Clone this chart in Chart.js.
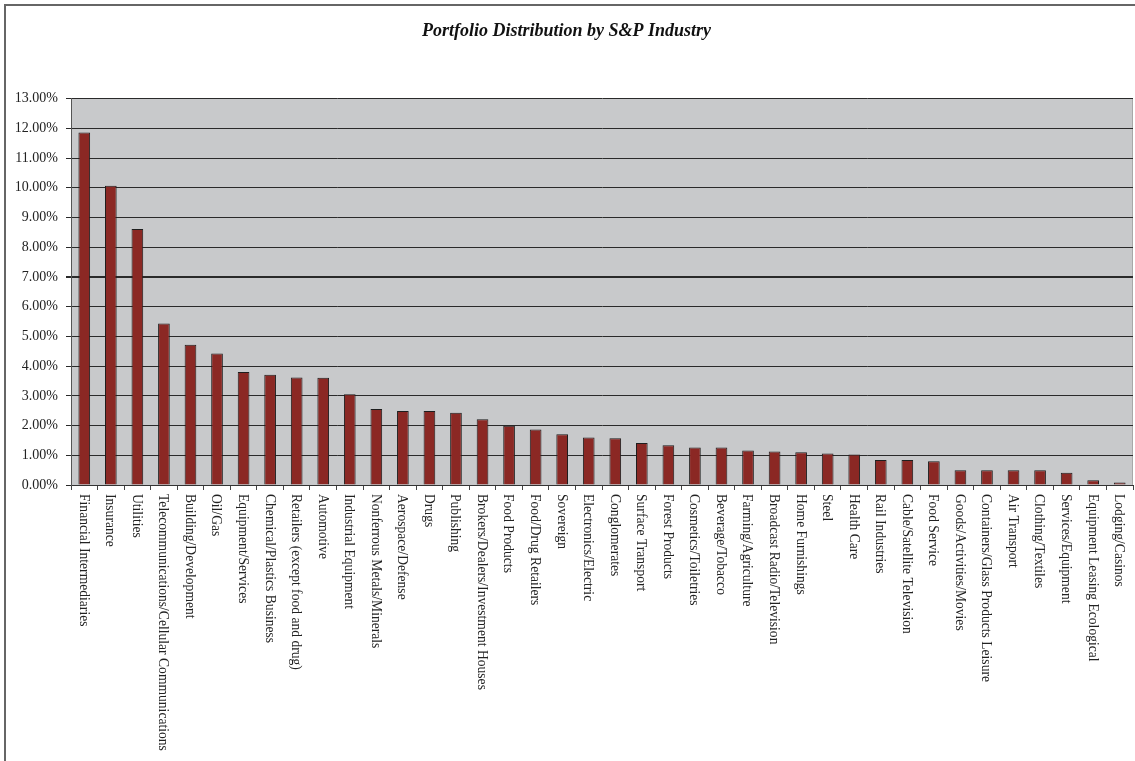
<!DOCTYPE html>
<html lang="en">
<head>
    <meta charset="UTF-8">
    <title>Portfolio Distribution by S&amp;P Industry</title>
    <script src="https://cdn.jsdelivr.net/npm/chart.js"></script>
    <style>
        html, body { margin: 0; padding: 0; background: #fff; overflow: hidden; }
        #wrap { position: relative; width: 1135px; height: 761px; }
        #frame { position: absolute; left: 4px; top: 4px; width: 1160px; height: 800px; border: 2px solid #666; }
        canvas { position: absolute; left: 0; top: 0; }
    </style>
</head>
<body>
    <div id="wrap">
        <div id="frame"></div>
        <canvas id="industryChart" width="1135" height="761"></canvas>
    </div>
    <script>
        var industries = [
            'Financial Intermediaries', 'Insurance', 'Utilities',
            'Telecommunications/Cellular Communications', 'Building/Development', 'Oil/Gas',
            'Equipment/Services', 'Chemical/Plastics Business', 'Retailers (except food and drug)',
            'Automotive', 'Industrial Equipment', 'Nonferrous Metals/Minerals',
            'Aerospace/Defense', 'Drugs', 'Publishing',
            'Brokers/Dealers/Investment Houses', 'Food Products', 'Food/Drug Retailers',
            'Sovereign', 'Electronics/Electric', 'Conglomerates',
            'Surface Transport', 'Forest Products', 'Cosmetics/Toiletries',
            'Beverage/Tobacco', 'Farming/Agriculture', 'Broadcast Radio/Television',
            'Home Furnishings', 'Steel', 'Health Care',
            'Rail Industries', 'Cable/Satellite Television', 'Food Service',
            'Goods/Activities/Movies', 'Containers/Glass Products Leisure', 'Air Transport',
            'Clothing/Textiles', 'Services/Equipment', 'Equipment Leasing Ecological',
            'Lodging/Casinos'
        ];
        // percent of portfolio
        var shares = [
            11.86, 10.07, 8.61,
            5.43, 4.72, 4.42,
            3.80, 3.71, 3.62,
            3.61, 3.05, 2.56,
            2.49, 2.49, 2.43,
            2.21, 1.99, 1.87,
            1.71, 1.60, 1.57,
            1.41, 1.34, 1.26,
            1.26, 1.16, 1.13,
            1.10, 1.06, 1.03,
            0.84, 0.84, 0.80,
            0.50, 0.50, 0.50,
            0.50, 0.41, 0.16,
            0.08
        ];
        var yTicks = { min: 0, max: 13, step: 1 };

        var serif = "'Liberation Serif', 'Times New Roman', serif";

        var plotBg = {
            id: 'plotBg',
            beforeDraw: function(chart) {
                var a = chart.chartArea, ctx = chart.ctx;
                ctx.save();
                ctx.fillStyle = '#c8c9cb';
                ctx.fillRect(a.left, a.top, a.right - a.left, a.bottom - a.top);
                ctx.strokeStyle = '#a8a8a8';
                ctx.lineWidth = 1;
                ctx.beginPath();
                ctx.moveTo(a.right - 0.5, a.top);
                ctx.lineTo(a.right - 0.5, a.bottom);
                ctx.stroke();
                ctx.restore();
            }
        };

        // category labels read top-to-bottom (rotated clockwise)
        var sideLabels = {
            id: 'sideLabels',
            afterDraw: function(chart) {
                var xs = chart.scales.x, ctx = chart.ctx;
                ctx.save();
                ctx.font = '13.6px ' + serif;
                ctx.fillStyle = '#222';
                ctx.textAlign = 'left';
                ctx.textBaseline = 'middle';
                industries.forEach(function(name, i) {
                    ctx.save();
                    ctx.translate(xs.getPixelForTick(i) - 1, xs.top + 9);
                    ctx.rotate(Math.PI / 2);
                    ctx.fillText(name, 0, 0);
                    ctx.restore();
                });
                ctx.restore();
            }
        };

        var ctx = document.getElementById('industryChart').getContext('2d');
        new Chart(ctx, {
            type: 'bar',
            data: {
                labels: industries,
                datasets: [{
                    data: shares,
                    backgroundColor: '#8b2824',
                    borderColor: '#1e1e1e',
                    borderWidth: 1,
                    barPercentage: 0.44,
                    categoryPercentage: 1
                }]
            },
            options: {
                responsive: false,
                animation: false,
                layout: { padding: { top: 0, left: 0, right: 2, bottom: 0 } },
                plugins: {
                    legend: { display: false },
                    tooltip: { enabled: false },
                    title: {
                        display: true,
                        text: 'Portfolio Distribution by S&P Industry',
                        color: '#111',
                        font: { family: serif, size: 18, weight: 'bold', style: 'italic' },
                        padding: { top: 21, bottom: 56 }
                    }
                },
                scales: {
                    x: {
                        offset: true,
                        afterFit: function(s) { s.height = 276; },
                        border: { color: '#333', width: 1 },
                        grid: { offset: true, drawOnChartArea: false, drawTicks: true, tickLength: 5, color: '#444' },
                        ticks: { display: false, autoSkip: false }
                    },
                    y: {
                        min: yTicks.min,
                        max: yTicks.max,
                        afterFit: function(s) { s.width = 71; },
                        border: { color: '#555', width: 1 },
                        grid: {
                            color: '#2a2a2a',
                            lineWidth: function(c) { return c.tick && c.tick.value === 7 ? 2 : 1; },
                            tickLength: 5
                        },
                        ticks: {
                            stepSize: yTicks.step,
                            padding: 8,
                            color: '#222',
                            font: { family: serif, size: 14 },
                            callback: function(v) { return v.toFixed(2) + '%'; }
                        }
                    }
                }
            },
            plugins: [plotBg, sideLabels]
        });
    </script>
</body>
</html>
